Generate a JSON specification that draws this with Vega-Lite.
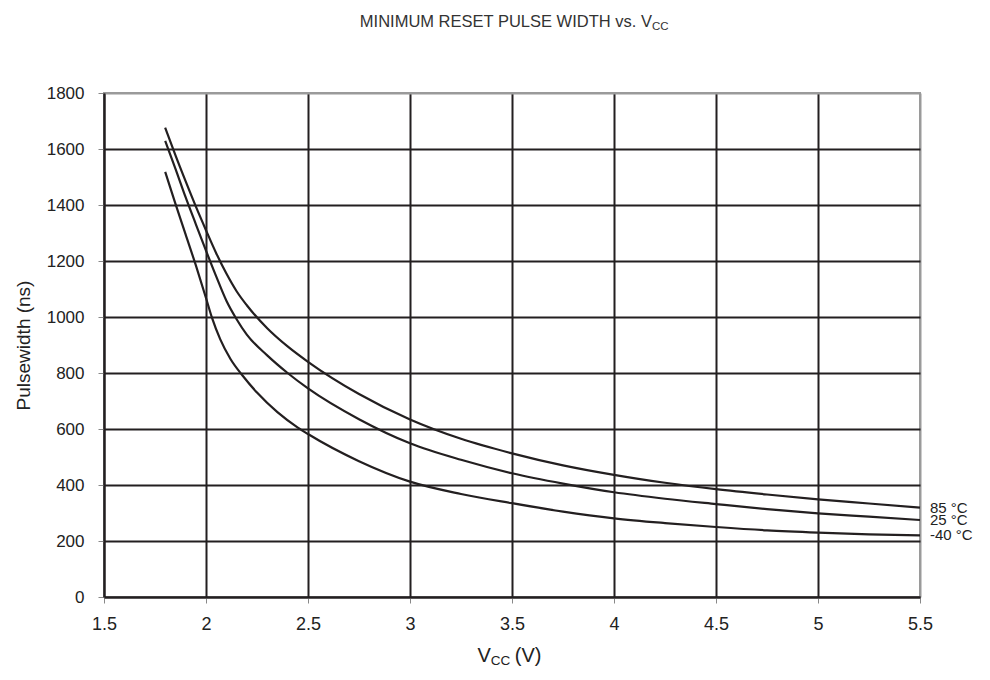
{
  "$schema": "https://vega.github.io/schema/vega-lite/v6.json",
  "width": 816,
  "height": 504,
  "autosize": "none",
  "padding": {"left": 104, "top": 93, "right": 70, "bottom": 83},
  "background": "white",
  "config": {
    "view": {"stroke": "#9a9a9a", "strokeWidth": 2},
    "font": "Liberation Sans"
  },
  "datasets": {
    "curves": [
      {"t": "85 °C", "v": 1.8, "pw": 1676},
      {"t": "85 °C", "v": 1.85, "pw": 1578},
      {"t": "85 °C", "v": 1.9, "pw": 1485},
      {"t": "85 °C", "v": 1.95, "pw": 1395},
      {"t": "85 °C", "v": 2.0, "pw": 1310},
      {"t": "85 °C", "v": 2.05, "pw": 1228},
      {"t": "85 °C", "v": 2.1, "pw": 1155},
      {"t": "85 °C", "v": 2.15, "pw": 1092},
      {"t": "85 °C", "v": 2.2, "pw": 1042},
      {"t": "85 °C", "v": 2.3, "pw": 960},
      {"t": "85 °C", "v": 2.4, "pw": 895},
      {"t": "85 °C", "v": 2.5, "pw": 840},
      {"t": "85 °C", "v": 2.75, "pw": 725},
      {"t": "85 °C", "v": 3.0, "pw": 634},
      {"t": "85 °C", "v": 3.25, "pw": 565},
      {"t": "85 °C", "v": 3.5, "pw": 513},
      {"t": "85 °C", "v": 3.75, "pw": 470},
      {"t": "85 °C", "v": 4.0, "pw": 436},
      {"t": "85 °C", "v": 4.25, "pw": 408},
      {"t": "85 °C", "v": 4.5, "pw": 385},
      {"t": "85 °C", "v": 4.75, "pw": 366},
      {"t": "85 °C", "v": 5.0, "pw": 349},
      {"t": "85 °C", "v": 5.25, "pw": 334},
      {"t": "85 °C", "v": 5.5, "pw": 319},
      {"t": "25 °C", "v": 1.8, "pw": 1629},
      {"t": "25 °C", "v": 1.85, "pw": 1530},
      {"t": "25 °C", "v": 1.9, "pw": 1428},
      {"t": "25 °C", "v": 1.95, "pw": 1332},
      {"t": "25 °C", "v": 2.0, "pw": 1237},
      {"t": "25 °C", "v": 2.05, "pw": 1145},
      {"t": "25 °C", "v": 2.1, "pw": 1058},
      {"t": "25 °C", "v": 2.15, "pw": 992},
      {"t": "25 °C", "v": 2.2, "pw": 937},
      {"t": "25 °C", "v": 2.3, "pw": 863},
      {"t": "25 °C", "v": 2.4, "pw": 800},
      {"t": "25 °C", "v": 2.5, "pw": 745},
      {"t": "25 °C", "v": 2.75, "pw": 635},
      {"t": "25 °C", "v": 3.0, "pw": 549},
      {"t": "25 °C", "v": 3.25, "pw": 490},
      {"t": "25 °C", "v": 3.5, "pw": 442},
      {"t": "25 °C", "v": 3.75, "pw": 405},
      {"t": "25 °C", "v": 4.0, "pw": 374},
      {"t": "25 °C", "v": 4.25, "pw": 351},
      {"t": "25 °C", "v": 4.5, "pw": 332},
      {"t": "25 °C", "v": 4.75, "pw": 314},
      {"t": "25 °C", "v": 5.0, "pw": 299},
      {"t": "25 °C", "v": 5.25, "pw": 287},
      {"t": "25 °C", "v": 5.5, "pw": 275},
      {"t": "-40 °C", "v": 1.8, "pw": 1518},
      {"t": "-40 °C", "v": 1.85, "pw": 1405},
      {"t": "-40 °C", "v": 1.9, "pw": 1295},
      {"t": "-40 °C", "v": 1.95, "pw": 1185},
      {"t": "-40 °C", "v": 2.0, "pw": 1068},
      {"t": "-40 °C", "v": 2.03, "pw": 996},
      {"t": "-40 °C", "v": 2.07, "pw": 920},
      {"t": "-40 °C", "v": 2.12, "pw": 850},
      {"t": "-40 °C", "v": 2.18, "pw": 790},
      {"t": "-40 °C", "v": 2.25, "pw": 730},
      {"t": "-40 °C", "v": 2.35, "pw": 660},
      {"t": "-40 °C", "v": 2.45, "pw": 605},
      {"t": "-40 °C", "v": 2.5, "pw": 582},
      {"t": "-40 °C", "v": 2.75, "pw": 485},
      {"t": "-40 °C", "v": 3.0, "pw": 412},
      {"t": "-40 °C", "v": 3.25, "pw": 368},
      {"t": "-40 °C", "v": 3.5, "pw": 335},
      {"t": "-40 °C", "v": 3.75, "pw": 305},
      {"t": "-40 °C", "v": 4.0, "pw": 281},
      {"t": "-40 °C", "v": 4.25, "pw": 264},
      {"t": "-40 °C", "v": 4.5, "pw": 250},
      {"t": "-40 °C", "v": 4.75, "pw": 238},
      {"t": "-40 °C", "v": 5.0, "pw": 230},
      {"t": "-40 °C", "v": 5.25, "pw": 224},
      {"t": "-40 °C", "v": 5.5, "pw": 220}
    ],
    "texts": [
      {"part": "main", "text": "MINIMUM RESET PULSE WIDTH vs. V", "tx": 4.186, "ty": 2036},
      {"part": "sub", "text": "CC", "tx": 4.186, "ty": 2036},
      {"part": "xmain", "text": "V", "tx": 3.396, "ty": -233},
      {"part": "xsub", "text": "CC", "tx": 3.396, "ty": -233},
      {"part": "xtail", "text": "(V)", "tx": 3.396, "ty": -233}
    ]
  },
  "layer": [
    {
      "data": {"name": "curves"},
      "mark": {"type": "line", "color": "#231f20", "strokeWidth": 2.2, "interpolate": "monotone"},
      "encoding": {
        "x": {
          "field": "v", "type": "quantitative",
          "scale": {"domain": [1.5, 5.5], "nice": false, "zero": false},
          "axis": {
            "values": [1.5, 2, 2.5, 3, 3.5, 4, 4.5, 5, 5.5],
            "format": "~g",
            "title": null,
            "grid": true,
            "gridColor": {"condition": {"test": "datum.value == 5.5", "value": "#9a9a9a"}, "value": "#231f20"},
            "gridWidth": 2,
            "domainColor": "#231f20",
            "domainWidth": 2,
            "tickColor": "#888888",
            "tickSize": 6,
            "tickWidth": 1,
            "labelFontSize": 18,
            "labelColor": "#222222",
            "labelPadding": 12,
            "labelFlush": false
          }
        },
        "y": {
          "field": "pw", "type": "quantitative",
          "scale": {"domain": [0, 1800], "nice": false},
          "axis": {
            "values": [0, 200, 400, 600, 800, 1000, 1200, 1400, 1600, 1800],
            "format": "d",
            "title": "Pulsewidth (ns)",
            "titleFontSize": 19,
            "titleFontWeight": "normal",
            "titleColor": "#222222",
            "titlePadding": 13,
            "grid": true,
            "gridColor": {"condition": {"test": "datum.value == 1800", "value": "#9a9a9a"}, "value": "#231f20"},
            "gridWidth": 2,
            "domainColor": "#231f20",
            "domainWidth": 2,
            "tickColor": "#888888",
            "tickSize": 6,
            "tickWidth": 1,
            "labelFontSize": 17,
            "labelColor": "#222222",
            "labelPadding": 14,
            "labelFlush": false
          }
        },
        "detail": {"field": "t", "type": "nominal"}
      }
    },
    {
      "data": {"name": "curves"},
      "transform": [{"filter": "datum.v == 5.5"}],
      "mark": {"type": "text", "align": "left", "baseline": "middle", "dx": 10, "dy": 0, "fontSize": 15, "color": "#222222", "clip": false},
      "encoding": {
        "x": {"field": "v", "type": "quantitative"},
        "y": {"field": "pw", "type": "quantitative"},
        "text": {"field": "t", "type": "nominal"}
      }
    },
    {
      "data": {"name": "texts"},
      "transform": [{"filter": "datum.part == 'main'"}],
      "mark": {"type": "text", "align": "right", "baseline": "alphabetic", "fontSize": 16.5, "color": "#333333", "clip": false},
      "encoding": {
        "x": {"field": "tx", "type": "quantitative"},
        "y": {"field": "ty", "type": "quantitative"},
        "text": {"field": "text", "type": "nominal"}
      }
    },
    {
      "data": {"name": "texts"},
      "transform": [{"filter": "datum.part == 'sub'"}],
      "mark": {"type": "text", "align": "left", "baseline": "alphabetic", "fontSize": 11.5, "dy": 3, "color": "#333333", "clip": false},
      "encoding": {
        "x": {"field": "tx", "type": "quantitative"},
        "y": {"field": "ty", "type": "quantitative"},
        "text": {"field": "text", "type": "nominal"}
      }
    },
    {
      "data": {"name": "texts"},
      "transform": [{"filter": "datum.part == 'xmain'"}],
      "mark": {"type": "text", "align": "right", "baseline": "alphabetic", "fontSize": 20, "color": "#222222", "clip": false},
      "encoding": {
        "x": {"field": "tx", "type": "quantitative"},
        "y": {"field": "ty", "type": "quantitative"},
        "text": {"field": "text", "type": "nominal"}
      }
    },
    {
      "data": {"name": "texts"},
      "transform": [{"filter": "datum.part == 'xsub'"}],
      "mark": {"type": "text", "align": "left", "baseline": "alphabetic", "fontSize": 13.5, "dy": 3, "color": "#222222", "clip": false},
      "encoding": {
        "x": {"field": "tx", "type": "quantitative"},
        "y": {"field": "ty", "type": "quantitative"},
        "text": {"field": "text", "type": "nominal"}
      }
    },
    {
      "data": {"name": "texts"},
      "transform": [{"filter": "datum.part == 'xtail'"}],
      "mark": {"type": "text", "align": "left", "baseline": "alphabetic", "fontSize": 20, "dx": 24, "color": "#222222", "clip": false},
      "encoding": {
        "x": {"field": "tx", "type": "quantitative"},
        "y": {"field": "ty", "type": "quantitative"},
        "text": {"field": "text", "type": "nominal"}
      }
    }
  ]
}
